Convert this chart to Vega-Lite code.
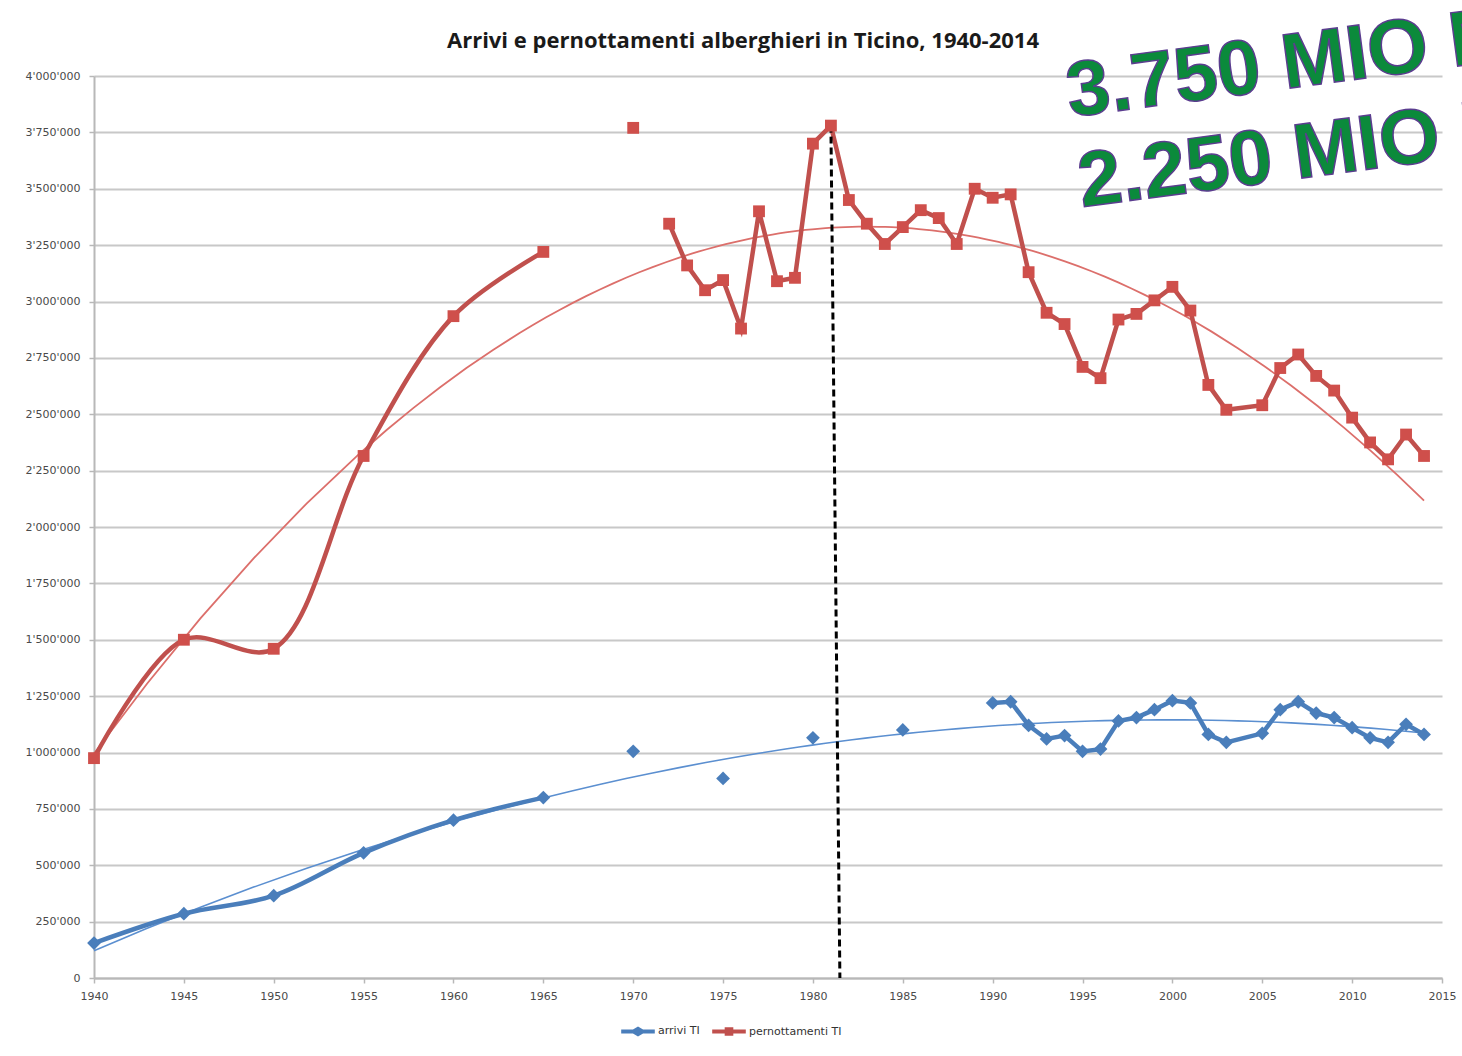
{
  "$schema": "https://vega.github.io/schema/vega-lite/v6.json",
  "width": 1348,
  "height": 902,
  "autosize": "none",
  "padding": {"left": 94, "top": 76, "right": 20, "bottom": 78},
  "background": "white",
  "config": {
    "locale": {"number": {"decimal": ".", "thousands": "'", "grouping": [3], "currency": ["", ""]}},
    "view": {"stroke": null},
    "font": "DejaVu Sans"
  },
  "title": {
    "text": "Arrivi e pernottamenti alberghieri in Ticino, 1940-2014",
    "font": "Open Sans",
    "fontSize": 22,
    "fontWeight": "bold",
    "color": "#1a1a1a",
    "anchor": "middle",
    "frame": "group",
    "dx": -25,
    "offset": -55
  },
  "datasets": {
    "main": [
      {"year": 1940, "value": 975000, "series": "pernottamenti TI", "seg": "early"},
      {"year": 1945, "value": 1500000, "series": "pernottamenti TI", "seg": "early"},
      {"year": 1950, "value": 1460000, "series": "pernottamenti TI", "seg": "early"},
      {"year": 1955, "value": 2315000, "series": "pernottamenti TI", "seg": "early"},
      {"year": 1960, "value": 2935000, "series": "pernottamenti TI", "seg": "early"},
      {"year": 1965, "value": 3220000, "series": "pernottamenti TI", "seg": "early"},
      {"year": 1970, "value": 3770000, "series": "pernottamenti TI", "seg": "single"},
      {"year": 1972, "value": 3345000, "series": "pernottamenti TI", "seg": "late"},
      {"year": 1973, "value": 3160000, "series": "pernottamenti TI", "seg": "late"},
      {"year": 1974, "value": 3050000, "series": "pernottamenti TI", "seg": "late"},
      {"year": 1975, "value": 3095000, "series": "pernottamenti TI", "seg": "late"},
      {"year": 1976, "value": 2880000, "series": "pernottamenti TI", "seg": "late"},
      {"year": 1977, "value": 3400000, "series": "pernottamenti TI", "seg": "late"},
      {"year": 1978, "value": 3090000, "series": "pernottamenti TI", "seg": "late"},
      {"year": 1979, "value": 3105000, "series": "pernottamenti TI", "seg": "late"},
      {"year": 1980, "value": 3700000, "series": "pernottamenti TI", "seg": "late"},
      {"year": 1981, "value": 3780000, "series": "pernottamenti TI", "seg": "late"},
      {"year": 1982, "value": 3450000, "series": "pernottamenti TI", "seg": "late"},
      {"year": 1983, "value": 3345000, "series": "pernottamenti TI", "seg": "late"},
      {"year": 1984, "value": 3255000, "series": "pernottamenti TI", "seg": "late"},
      {"year": 1985, "value": 3330000, "series": "pernottamenti TI", "seg": "late"},
      {"year": 1986, "value": 3405000, "series": "pernottamenti TI", "seg": "late"},
      {"year": 1987, "value": 3370000, "series": "pernottamenti TI", "seg": "late"},
      {"year": 1988, "value": 3255000, "series": "pernottamenti TI", "seg": "late"},
      {"year": 1989, "value": 3500000, "series": "pernottamenti TI", "seg": "late"},
      {"year": 1990, "value": 3460000, "series": "pernottamenti TI", "seg": "late"},
      {"year": 1991, "value": 3475000, "series": "pernottamenti TI", "seg": "late"},
      {"year": 1992, "value": 3130000, "series": "pernottamenti TI", "seg": "late"},
      {"year": 1993, "value": 2950000, "series": "pernottamenti TI", "seg": "late"},
      {"year": 1994, "value": 2900000, "series": "pernottamenti TI", "seg": "late"},
      {"year": 1995, "value": 2710000, "series": "pernottamenti TI", "seg": "late"},
      {"year": 1996, "value": 2660000, "series": "pernottamenti TI", "seg": "late"},
      {"year": 1997, "value": 2920000, "series": "pernottamenti TI", "seg": "late"},
      {"year": 1998, "value": 2945000, "series": "pernottamenti TI", "seg": "late"},
      {"year": 1999, "value": 3005000, "series": "pernottamenti TI", "seg": "late"},
      {"year": 2000, "value": 3065000, "series": "pernottamenti TI", "seg": "late"},
      {"year": 2001, "value": 2960000, "series": "pernottamenti TI", "seg": "late"},
      {"year": 2002, "value": 2630000, "series": "pernottamenti TI", "seg": "late"},
      {"year": 2003, "value": 2520000, "series": "pernottamenti TI", "seg": "late"},
      {"year": 2005, "value": 2540000, "series": "pernottamenti TI", "seg": "late"},
      {"year": 2006, "value": 2705000, "series": "pernottamenti TI", "seg": "late"},
      {"year": 2007, "value": 2765000, "series": "pernottamenti TI", "seg": "late"},
      {"year": 2008, "value": 2670000, "series": "pernottamenti TI", "seg": "late"},
      {"year": 2009, "value": 2605000, "series": "pernottamenti TI", "seg": "late"},
      {"year": 2010, "value": 2485000, "series": "pernottamenti TI", "seg": "late"},
      {"year": 2011, "value": 2375000, "series": "pernottamenti TI", "seg": "late"},
      {"year": 2012, "value": 2300000, "series": "pernottamenti TI", "seg": "late"},
      {"year": 2013, "value": 2410000, "series": "pernottamenti TI", "seg": "late"},
      {"year": 2014, "value": 2315000, "series": "pernottamenti TI", "seg": "late"},
      {"year": 1940, "value": 155000, "series": "arrivi TI", "seg": "early"},
      {"year": 1945, "value": 285000, "series": "arrivi TI", "seg": "early"},
      {"year": 1950, "value": 365000, "series": "arrivi TI", "seg": "early"},
      {"year": 1955, "value": 555000, "series": "arrivi TI", "seg": "early"},
      {"year": 1960, "value": 700000, "series": "arrivi TI", "seg": "early"},
      {"year": 1965, "value": 800000, "series": "arrivi TI", "seg": "early"},
      {"year": 1970, "value": 1005000, "series": "arrivi TI", "seg": "single"},
      {"year": 1975, "value": 885000, "series": "arrivi TI", "seg": "single"},
      {"year": 1980, "value": 1065000, "series": "arrivi TI", "seg": "single"},
      {"year": 1985, "value": 1100000, "series": "arrivi TI", "seg": "single"},
      {"year": 1990, "value": 1220000, "series": "arrivi TI", "seg": "late"},
      {"year": 1991, "value": 1225000, "series": "arrivi TI", "seg": "late"},
      {"year": 1992, "value": 1120000, "series": "arrivi TI", "seg": "late"},
      {"year": 1993, "value": 1060000, "series": "arrivi TI", "seg": "late"},
      {"year": 1994, "value": 1075000, "series": "arrivi TI", "seg": "late"},
      {"year": 1995, "value": 1005000, "series": "arrivi TI", "seg": "late"},
      {"year": 1996, "value": 1015000, "series": "arrivi TI", "seg": "late"},
      {"year": 1997, "value": 1140000, "series": "arrivi TI", "seg": "late"},
      {"year": 1998, "value": 1155000, "series": "arrivi TI", "seg": "late"},
      {"year": 1999, "value": 1190000, "series": "arrivi TI", "seg": "late"},
      {"year": 2000, "value": 1230000, "series": "arrivi TI", "seg": "late"},
      {"year": 2001, "value": 1220000, "series": "arrivi TI", "seg": "late"},
      {"year": 2002, "value": 1080000, "series": "arrivi TI", "seg": "late"},
      {"year": 2003, "value": 1045000, "series": "arrivi TI", "seg": "late"},
      {"year": 2005, "value": 1085000, "series": "arrivi TI", "seg": "late"},
      {"year": 2006, "value": 1190000, "series": "arrivi TI", "seg": "late"},
      {"year": 2007, "value": 1225000, "series": "arrivi TI", "seg": "late"},
      {"year": 2008, "value": 1175000, "series": "arrivi TI", "seg": "late"},
      {"year": 2009, "value": 1155000, "series": "arrivi TI", "seg": "late"},
      {"year": 2010, "value": 1110000, "series": "arrivi TI", "seg": "late"},
      {"year": 2011, "value": 1065000, "series": "arrivi TI", "seg": "late"},
      {"year": 2012, "value": 1045000, "series": "arrivi TI", "seg": "late"},
      {"year": 2013, "value": 1125000, "series": "arrivi TI", "seg": "late"},
      {"year": 2014, "value": 1080000, "series": "arrivi TI", "seg": "late"}
    ],
    "peak": [
      {"year": 1981, "value": 3780000, "year2": 1981.5, "value2": 0}
    ],
    "notes": [
      {"year": 1994.3, "value": 3818000, "text": "3.750 MIO N"},
      {"year": 1994.95, "value": 3419000, "text": "2.250 MIO N"}
    ]
  },
  "data": {"name": "main"},
  "encoding": {
    "x": {
      "field": "year",
      "type": "quantitative",
      "scale": {"domain": [1940, 2015], "nice": false, "zero": false},
      "axis": {
        "title": null,
        "values": [1940, 1945, 1950, 1955, 1960, 1965, 1970, 1975, 1980, 1985, 1990, 1995, 2000, 2005, 2010, 2015],
        "format": "d",
        "grid": false,
        "domainColor": "#b8b8b8",
        "domainWidth": 2,
        "tickColor": "#b8b8b8",
        "tickWidth": 1.5,
        "tickSize": 5,
        "labelPadding": 7,
        "labelFont": "DejaVu Sans",
        "labelFontSize": 11,
        "labelColor": "#4a4a4a",
        "labelFlush": false
      }
    },
    "y": {
      "field": "value",
      "type": "quantitative",
      "scale": {"domain": [0, 4000000], "nice": false},
      "axis": {
        "title": null,
        "values": [0, 250000, 500000, 750000, 1000000, 1250000, 1500000, 1750000, 2000000, 2250000, 2500000, 2750000, 3000000, 3250000, 3500000, 3750000, 4000000],
        "format": ",d",
        "grid": true,
        "gridColor": "#c8c8c8",
        "gridWidth": 2,
        "domainColor": "#b8b8b8",
        "domainWidth": 2,
        "tickColor": "#b8b8b8",
        "tickWidth": 1.5,
        "tickSize": 5,
        "labelPadding": 9,
        "labelFont": "DejaVu Sans",
        "labelFontSize": 11,
        "labelColor": "#4a4a4a"
      }
    }
  },
  "layer": [
    {
      "transform": [
        {"filter": "datum.series == 'pernottamenti TI'"},
        {"regression": "value", "on": "year", "method": "poly", "order": 2, "extent": [1940, 2014]}
      ],
      "mark": {"type": "line", "color": "#dc6f6b", "strokeWidth": 1.8},
      "encoding": {}
    },
    {
      "transform": [
        {"filter": "datum.series == 'arrivi TI'"},
        {"regression": "value", "on": "year", "method": "poly", "order": 2, "extent": [1940, 2014]}
      ],
      "mark": {"type": "line", "color": "#5b8fd0", "strokeWidth": 1.6},
      "encoding": {}
    },
    {
      "transform": [{"filter": "datum.seg == 'early'"}],
      "mark": {"type": "line", "interpolate": "catmull-rom", "strokeWidth": 4.5},
      "encoding": {
        "color": {
          "field": "series",
          "type": "nominal",
          "scale": {"domain": ["arrivi TI", "pernottamenti TI"], "range": ["#4a7ebb", "#c0504d"]},
          "legend": {
            "title": null,
            "orient": "none",
            "direction": "horizontal",
            "legendX": 532,
            "legendY": 943,
            "symbolSize": 576,
            "labelOffset": 8,
            "columnPadding": 12,
            "labelFont": "DejaVu Sans",
            "labelFontSize": 11,
            "labelColor": "#333333",
            "encode": {
              "symbols": {
                "update": {
                  "shape": {"signal": "datum.value === 'arrivi TI' ? 'M-1.4,-0.16H-0.42L0,-0.42L0.42,-0.16H1.4V0.16H0.42L0,0.42L-0.42,0.16H-1.4Z' : 'M-1.4,-0.16H-0.36V-0.36H0.36V-0.16H1.4V0.16H0.36V0.36H-0.36V0.16H-1.4Z'"},
                  "fill": {"signal": "scale('color', datum.value)"},
                  "strokeWidth": {"value": 0},
                  "fillOpacity": {"value": 1}
                }
              }
            }
          }
        }
      }
    },
    {
      "transform": [{"filter": "datum.seg == 'late'"}],
      "mark": {"type": "line", "strokeWidth": 4.5},
      "encoding": {
        "color": {"field": "series", "type": "nominal"}
      }
    },
    {
      "data": {"name": "peak"},
      "mark": {"type": "rule", "color": "#000000", "strokeWidth": 3, "strokeDash": [7, 4]},
      "encoding": {
        "x2": {"field": "year2"},
        "y2": {"field": "value2"}
      }
    },
    {
      "transform": [{"filter": "datum.series == 'pernottamenti TI'"}],
      "mark": {"type": "square", "filled": true, "opacity": 1, "size": 140, "color": "#cf4f4b"}
    },
    {
      "transform": [{"filter": "datum.series == 'arrivi TI'"}],
      "mark": {"type": "point", "shape": "diamond", "filled": true, "opacity": 1, "size": 190, "color": "#4a7ebb"}
    },
    {
      "data": {"name": "notes"},
      "mark": {
        "type": "text",
        "align": "left",
        "baseline": "alphabetic",
        "angle": -7.5,
        "font": "Liberation Sans",
        "fontSize": 78,
        "fontWeight": "bold",
        "fill": "#0b8a3b",
        "stroke": "#5b3d8f",
        "strokeWidth": 1.5
      },
      "encoding": {
        "text": {"field": "text"}
      }
    }
  ]
}
